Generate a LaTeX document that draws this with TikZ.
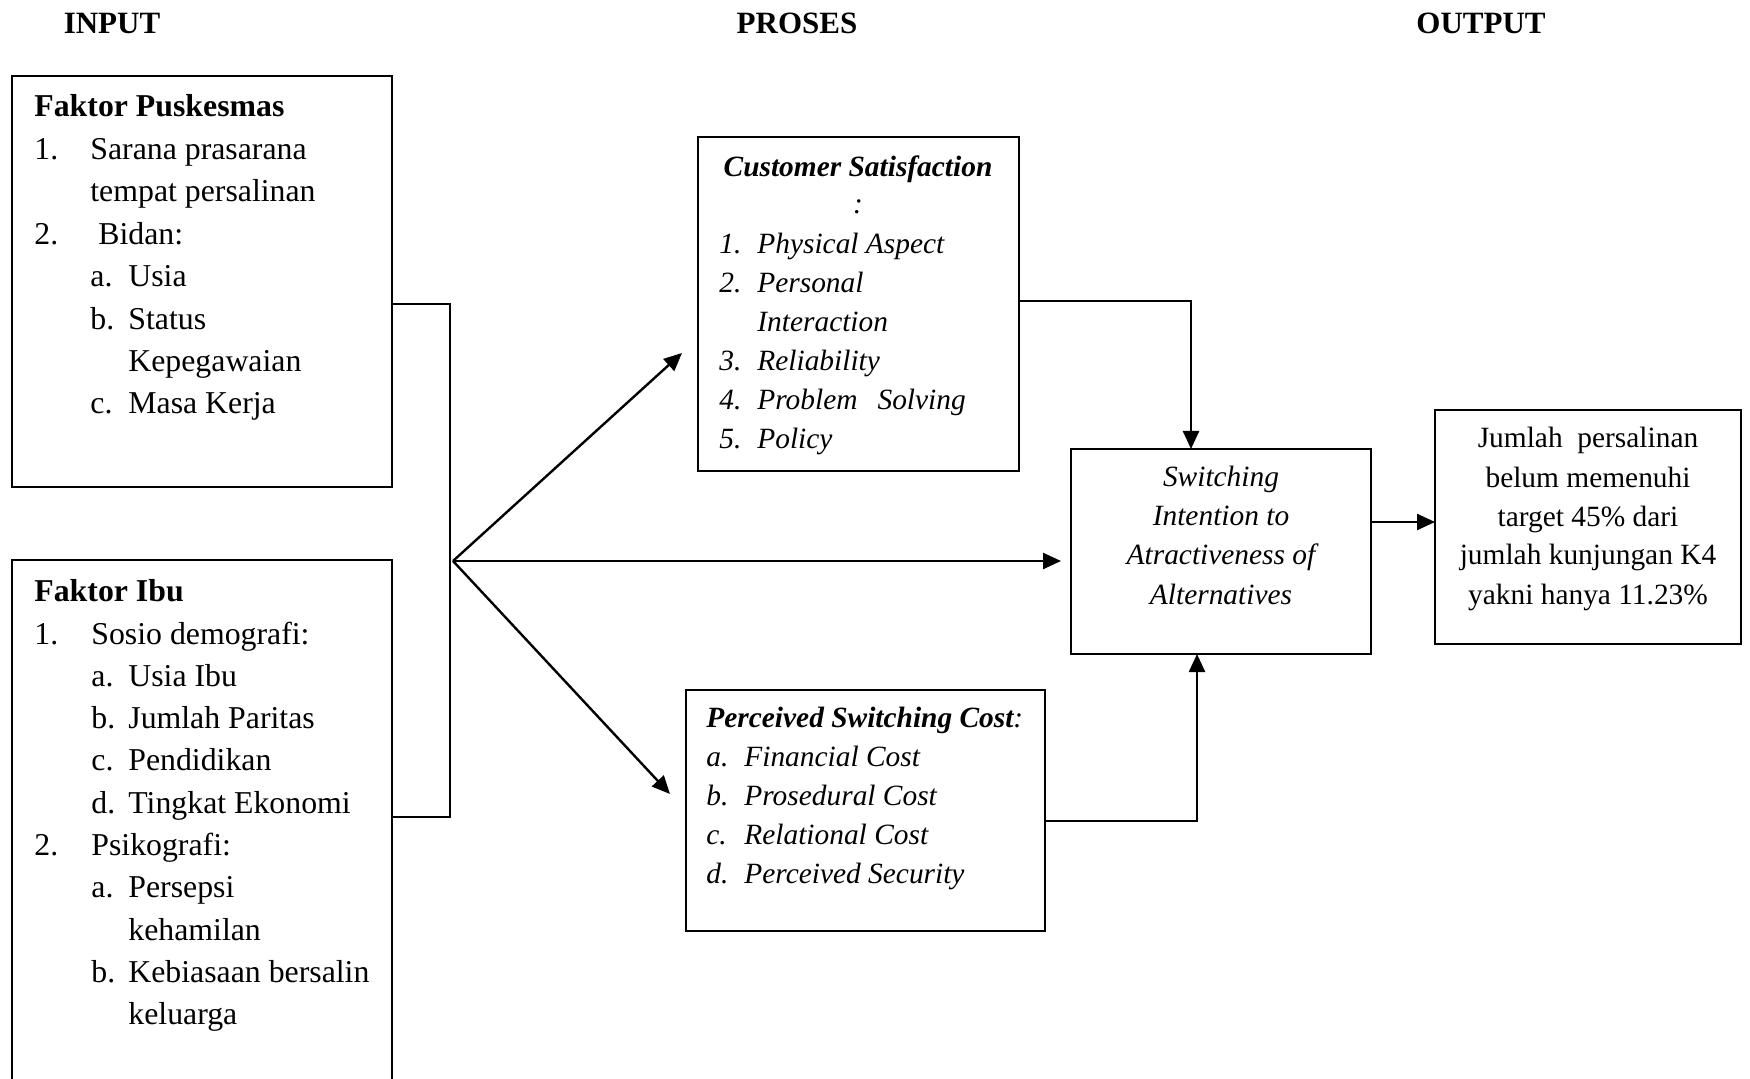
\documentclass[tikz,border=0pt]{standalone}
\usepackage{fontspec}
\setmainfont{Liberation Serif}
\usetikzlibrary{arrows.meta}
\begin{document}
\begin{tikzpicture}[x=0.5pt,y=-0.5pt,
 box/.style={draw, line width=0.9pt, inner sep=0pt, outer sep=0pt},
 lt/.style={anchor=base west, inner sep=0pt, font=\fontsize{15.9}{19}\selectfont},
 rt/.style={anchor=base west, inner sep=0pt, font=\fontsize{14.7}{18}\selectfont\itshape},
 rci/.style={anchor=base, inner sep=0pt, font=\fontsize{14.7}{18}\selectfont\itshape},
 rc/.style={anchor=base, inner sep=0pt, font=\fontsize{14.7}{18}\selectfont},
 hd/.style={anchor=base, inner sep=0pt, font=\fontsize{15.5}{18}\selectfont\bfseries},
 conn/.style={line width=1.2pt},
 arr/.style={conn, -{Triangle[length=9pt,width=8pt]}}]
\useasboundingbox (0,0) rectangle (1750,1079);

% headers
\node[hd] (hIn) at (112,34) {INPUT};
\node[hd] (hPr) at (797,34) {PROSES};
\node[hd] (hOut) at (1481,34) {OUTPUT};

% boxes
\node[box, minimum width=190pt, minimum height=205.5pt] (pusk) at (202,281.5) {};
\node[box, minimum width=190pt, minimum height=262.5pt] (ibu) at (202,822.5) {};
\node[box, minimum width=160.5pt, minimum height=167pt] (cs) at (858.5,304) {};
\node[box, minimum width=150pt, minimum height=102.5pt] (switch) at (1221,551.5) {};
\node[box, minimum width=179.5pt, minimum height=120.5pt] (psc) at (865.5,810.5) {};
\node[box, minimum width=153pt, minimum height=117pt] (out) at (1588,527) {};

% Faktor Puskesmas
\node[lt] (p0) at (34,117) {\textbf{Faktor Puskesmas}};
\node[lt] (p1) at (34,160) {\makebox[28pt][l]{1.}Sarana prasarana};
\node[lt] (p2) at (90,202) {tempat persalinan};
\node[lt] (p3) at (34,245) {\makebox[32pt][l]{2.}Bidan:};
\node[lt] (p4) at (90,287) {\makebox[19pt][l]{a.}Usia};
\node[lt] (p5) at (90,330) {\makebox[19pt][l]{b.}Status};
\node[lt] (p6) at (128,372) {Kepegawaian};
\node[lt] (p7) at (90,414) {\makebox[19pt][l]{c.}Masa Kerja};

% Faktor Ibu
\node[lt] (i0) at (34,602) {\textbf{Faktor Ibu}};
\node[lt] (i1) at (34,644) {\makebox[28.5pt][l]{1.}Sosio demografi:};
\node[lt] (i2) at (91,686.3) {\makebox[18.5pt][l]{a.}Usia Ibu};
\node[lt] (i3) at (91,728.6) {\makebox[18.5pt][l]{b.}Jumlah Paritas};
\node[lt] (i4) at (91,770.9) {\makebox[18.5pt][l]{c.}Pendidikan};
\node[lt] (i5) at (91,813.2) {\makebox[18.5pt][l]{d.}Tingkat Ekonomi};
\node[lt] (i6) at (34,855.5) {\makebox[28.5pt][l]{2.}Psikografi:};
\node[lt] (i7) at (91,897.8) {\makebox[18.5pt][l]{a.}Persepsi};
\node[lt] (i8) at (128,940.1) {kehamilan};
\node[lt] (i9) at (91,982.4) {\makebox[18.5pt][l]{b.}Kebiasaan bersalin};
\node[lt] (i10) at (128,1024.7) {keluarga};

% Customer Satisfaction
\node[rci] (c0) at (858,176.5) {\bfseries Customer Satisfaction};
\node[rci] (c1) at (858,214) {:};
\node[rt] (c2) at (719,254) {\makebox[19pt][l]{1.}Physical Aspect};
\node[rt] (c3) at (719,292.9) {\makebox[19pt][l]{2.}Personal};
\node[rt] (c4) at (757,331.8) {Interaction};
\node[rt] (c5) at (719,370.7) {\makebox[19pt][l]{3.}Reliability};
\node[rt] (c6) at (719,409.6) {\makebox[19pt][l]{4.}Problem\hspace{10pt}Solving};
\node[rt] (c7) at (719,448.5) {\makebox[19pt][l]{5.}Policy};

% Perceived Switching Cost
\node[rt] (s0) at (706,727) {\textbf{Perceived Switching Cost}:};
\node[rt] (s1) at (706,766) {\makebox[19pt][l]{a.}Financial Cost};
\node[rt] (s2) at (706,805) {\makebox[19pt][l]{b.}Prosedural Cost};
\node[rt] (s3) at (706,844) {\makebox[19pt][l]{c.}Relational Cost};
\node[rt] (s4) at (706,883) {\makebox[19pt][l]{d.}Perceived Security};

% Switching
\node[rci] (w0) at (1221,487) {Switching};
\node[rci] (w1) at (1221,526) {Intention to};
\node[rci] (w2) at (1221,565) {Atractiveness of};
\node[rci] (w3) at (1221,604) {Alternatives};

% Output
\node[rc] (o0) at (1588,448) {Jumlah\ \ persalinan};
\node[rc] (o1) at (1588,488) {belum memenuhi};
\node[rc] (o2) at (1588,527) {target 45\% dari};
\node[rc] (o3) at (1588,565) {jumlah kunjungan K4};
\node[rc] (o4) at (1588,604) {yakni hanya 11.23\%};

% connectors
\coordinate (j1) at (450,304);
\coordinate (j2) at (450,817);
\draw[conn] (pusk.east |- j1) -- (j1) -- (j2) -- (ibu.east |- j2);
\coordinate (fan) at (453,561);
\coordinate (tipA) at (682,353);
\coordinate (tipC) at (670,794);
\draw[arr] (fan) -- (tipA);
\draw[arr, shorten >=5pt] (fan) -- (switch.west |- fan);
\draw[arr] (fan) -- (tipC);

\coordinate (k1) at (1191,301);
\draw[arr] (cs.east |- k1) -- (k1) -- (switch.north -| k1);
\coordinate (k2) at (1197,821);
\draw[arr] (psc.east |- k2) -- (k2) -- (switch.south -| k2);
\coordinate (k3) at (1400,522);
\draw[arr] (switch.east |- k3) -- (out.west |- k3);
\end{tikzpicture}
\end{document}
